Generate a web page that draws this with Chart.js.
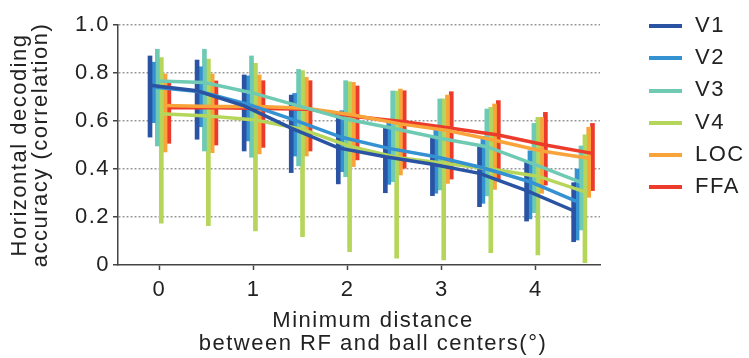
<!DOCTYPE html>
<html>
<head>
<meta charset="utf-8">
<script src="https://cdn.jsdelivr.net/npm/chart.js@4"></script>
<style>
  html, body { margin: 0; padding: 0; background: #fff; }
  #wrap { position: relative; width: 749px; height: 358px; font-family: "Liberation Sans", Arial, sans-serif; color: #222; }
  #legend { position: absolute; left: 649px; top: 9px; font-size: 22px; letter-spacing: 1.5px; }
  #legend div { height: 32.2px; line-height: 32.2px; white-space: nowrap; }
  #legend span { display: inline-block; width: 33px; height: 4px; vertical-align: middle; margin-right: 13px; }
  #xtitle { position: absolute; left: 173px; top: 308px; width: 400px; text-align: center; font-size: 22px; line-height: 23px; letter-spacing: 1.5px; }
</style>
</head>
<body>
<div id="wrap">
  <canvas id="chart" width="749" height="358"></canvas>
  <div id="legend"></div>
  <div id="xtitle">Minimum distance<br>between RF and ball centers(°)</div>
</div>
<script>
'use strict'

// distances (deg)
var distances = [0, 0.5, 1, 1.5, 2, 2.5, 3, 3.5, 4, 4.5];
var xTicks = [0, 1, 2, 3, 4];
var yTicks = [0, 0.2, 0.4, 0.6, 0.8, 1.0];

var areaNames = ['V1', 'V2', 'V3', 'V4', 'LOC', 'FFA'];
var areaColors = ['#2a53a3', '#3592d2', '#6ecab3', '#b5d65b', '#f9a43a', '#ec3a2b'];

// mean decoding accuracy
var v1Mean = [0.749, 0.726, 0.663, 0.570, 0.488, 0.451, 0.420, 0.382, 0.310, 0.226];
var v2Mean = [0.742, 0.722, 0.670, 0.604, 0.532, 0.486, 0.451, 0.405, 0.347, 0.264];
var v3Mean = [0.767, 0.760, 0.718, 0.663, 0.608, 0.570, 0.528, 0.493, 0.420, 0.344];
var v4Mean = [0.630, 0.621, 0.604, 0.565, 0.495, 0.448, 0.424, 0.400, 0.370, 0.305];
var locMean = [0.665, 0.660, 0.660, 0.653, 0.625, 0.588, 0.560, 0.520, 0.475, 0.445];
var ffaMean = [0.655, 0.655, 0.652, 0.649, 0.618, 0.597, 0.570, 0.542, 0.500, 0.465];

// error bar limits
var v1Low = [0.533, 0.524, 0.475, 0.385, 0.338, 0.301, 0.289, 0.243, 0.183, 0.097];
var v1High = [0.871, 0.854, 0.792, 0.708, 0.618, 0.574, 0.538, 0.500, 0.433, 0.343];
var v2Low = [0.593, 0.576, 0.517, 0.454, 0.389, 0.336, 0.299, 0.257, 0.192, 0.104];
var v2High = [0.845, 0.826, 0.788, 0.715, 0.643, 0.607, 0.576, 0.535, 0.476, 0.400];
var v3Low = [0.496, 0.475, 0.449, 0.413, 0.368, 0.347, 0.313, 0.288, 0.218, 0.146];
var v3High = [0.899, 0.899, 0.871, 0.815, 0.768, 0.725, 0.692, 0.650, 0.590, 0.496];
var v4Low = [0.174, 0.164, 0.142, 0.118, 0.056, 0.028, 0.021, 0.051, 0.042, 0.010];
var v4High = [0.864, 0.858, 0.840, 0.810, 0.763, 0.725, 0.692, 0.657, 0.615, 0.542];
var locLow = [0.471, 0.468, 0.463, 0.454, 0.410, 0.375, 0.340, 0.315, 0.299, 0.282];
var locHigh = [0.796, 0.796, 0.792, 0.782, 0.761, 0.733, 0.708, 0.671, 0.615, 0.574];
var ffaLow = [0.507, 0.500, 0.490, 0.475, 0.438, 0.403, 0.358, 0.354, 0.333, 0.310];
var ffaHigh = [0.768, 0.767, 0.768, 0.768, 0.746, 0.726, 0.722, 0.685, 0.636, 0.590];

var means = [v1Mean, v2Mean, v3Mean, v4Mean, locMean, ffaMean];
var lows = [v1Low, v2Low, v3Low, v4Low, locLow, ffaLow];
var highs = [v1High, v2High, v3High, v4High, locHigh, ffaHigh];

// small horizontal shift so the error bars of each area sit side by side
var shift = [-0.1, -0.064, -0.022, 0.02, 0.06, 0.1];

Chart.defaults.font.family = '"Liberation Sans", Arial, sans-serif';
Chart.defaults.color = '#222';

var datasets = [];
areaNames.forEach(function (name, i) {
    datasets.push({
        type: 'line',
        label: name,
        data: distances.map(function (d, j) { return { x: d + shift[i], y: means[i][j] }; }),
        borderColor: areaColors[i],
        borderWidth: 3.5,
        pointRadius: 0,
        tension: 0,
        order: 1
    });
});
areaNames.forEach(function (name, i) {
    datasets.push({
        type: 'bar',
        label: name + ' err',
        data: distances.map(function (d, j) { return { x: d + shift[i], y: [lows[i][j], highs[i][j]] }; }),
        backgroundColor: areaColors[i],
        barThickness: 4,
        grouped: false,
        order: 2
    });
});

// wider letter spacing like the original figure
var spacing = {
    id: 'spacing',
    beforeDraw: function (chart) { chart.ctx.letterSpacing = '1.5px'; }
};

new Chart(document.getElementById('chart'), {
    data: { datasets: datasets },
    plugins: [spacing],
    options: {
        responsive: false,
        animation: false,
        layout: { padding: { left: 0, right: 149, top: 25, bottom: 0 } },
        plugins: {
            legend: { display: false },
            tooltip: { enabled: false }
        },
        scales: {
            x: {
                type: 'linear',
                offset: false,
                min: -0.44,
                max: 4.68,
                afterFit: function (s) { s.height = 93; },
                afterBuildTicks: function (s) { s.ticks = xTicks.map(function (v) { return { value: v }; }); },
                ticks: { font: { size: 22 }, padding: 7, color: '#222' },
                grid: { offset: false, drawOnChartArea: false, tickLength: 5, tickColor: '#444', tickWidth: 1.5 },
                border: { color: '#444', width: 1.5 }
            },
            y: {
                min: 0,
                max: 1,
                afterFit: function (s) { s.width = 118; },
                afterBuildTicks: function (s) { s.ticks = yTicks.map(function (v) { return { value: v }; }); },
                ticks: {
                    font: { size: 22 },
                    padding: 3,
                    color: '#222',
                    callback: function (v) { return v === 0 ? '0' : v.toFixed(1); }
                },
                grid: {
                    color: function (c) { return c.tick && c.tick.value === 0 ? 'rgba(0,0,0,0)' : '#999'; },
                    lineWidth: 1.5,
                    tickLength: 5,
                    tickColor: '#444',
                    tickBorderDash: []
                },
                border: { color: '#444', width: 1.5, dash: [2, 2] },
                title: {
                    display: true,
                    text: ['Horizontal decoding', 'accuracy (correlation)'],
                    font: { size: 22, lineHeight: 0.96 },
                    color: '#222',
                    padding: { top: 9, bottom: 0 }
                }
            }
        }
    }
});

// legend
var legend = document.getElementById('legend');
areaNames.forEach(function (name, i) {
    var row = document.createElement('div');
    row.innerHTML = '<span style="background:' + areaColors[i] + '"></span>' + name;
    legend.appendChild(row);
});
</script>
</body>
</html>
